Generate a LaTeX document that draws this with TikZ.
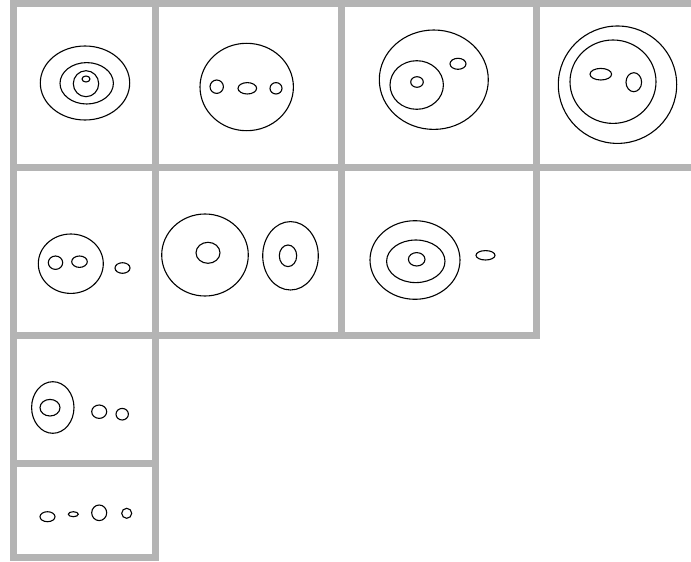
\documentclass[tikz,border=0pt]{standalone}
\usepackage{tikz}
\usepackage{xcolor}
\definecolor{framegray}{RGB}{180,180,180}

\begin{document}
\begin{tikzpicture}[
        x=1pt, y=-1pt,
        frame/.style={draw=framegray, line width=7pt, line cap=rect},
        blob/.style={draw=black, line width=1.1pt}
      ]
        \useasboundingbox (0,0) rectangle (691,562);
        \draw[frame] (13,3) -- (691,3);
        \draw[frame] (13,167) -- (691,167);
        \draw[frame] (13,335) -- (536,335);
        \draw[frame] (13,463) -- (155,463);
        \draw[frame] (13,557) -- (155,557);
        \draw[frame] (13,3) -- (13,557);
        \draw[frame] (155,3) -- (155,557);
        \draw[frame] (341,3) -- (341,335);
        \draw[frame] (536,3) -- (536,335);
        \draw[blob] (85,83) ellipse [x radius=44.7, y radius=37];
        \draw[blob] (86.7,83.3) ellipse [x radius=26.7, y radius=20.7];
        \draw[blob] (86,83.7) ellipse [x radius=12.7, y radius=13];
        \draw[blob] (86,79) ellipse [x radius=4, y radius=3];
        \draw[blob] (246.7,87) ellipse [x radius=46.7, y radius=43.7];
        \draw[blob] (216.7,86.7) ellipse [x radius=6.7, y radius=6.7];
        \draw[blob] (247.3,88.3) ellipse [x radius=9.3, y radius=5.7];
        \draw[blob] (276,88.3) ellipse [x radius=6, y radius=5.7];
        \draw[blob] (433.8,79.7) ellipse [x radius=54.5, y radius=49.7];
        \draw[blob] (416.7,85) ellipse [x radius=26.7, y radius=24.3];
        \draw[blob] (417,82) ellipse [x radius=6.3, y radius=5.3];
        \draw[blob] (458,63.8) ellipse [x radius=8, y radius=5.5];
        \draw[blob] (617.5,84.7) ellipse [x radius=59.2, y radius=58.7];
        \draw[blob] (613,81.7) ellipse [x radius=43, y radius=41.7];
        \draw[blob] (600.8,74.2) ellipse [x radius=10.8, y radius=5.8];
        \draw[blob] (633.8,82.2) ellipse [x radius=7.8, y radius=9.5];
        \draw[blob] (70.8,263.7) ellipse [x radius=32.5, y radius=29.7];
        \draw[blob] (55.5,262.7) ellipse [x radius=7.2, y radius=6.7];
        \draw[blob] (79.5,261.7) ellipse [x radius=7.8, y radius=5.7];
        \draw[blob] (122.5,268) ellipse [x radius=7.5, y radius=5.3];
        \draw[blob] (205,255) ellipse [x radius=43.3, y radius=41];
        \draw[blob] (208,252.8) ellipse [x radius=12, y radius=10.5];
        \draw[blob] (290.5,255.8) ellipse [x radius=27.8, y radius=34.2];
        \draw[blob] (288,255.8) ellipse [x radius=8.7, y radius=10.8];
        \draw[blob] (415,260) ellipse [x radius=45, y radius=39.3];
        \draw[blob] (415.8,261.3) ellipse [x radius=29.2, y radius=21.3];
        \draw[blob] (416.7,259.3) ellipse [x radius=8.3, y radius=6.7];
        \draw[blob] (485.5,255.3) ellipse [x radius=9.5, y radius=4.7];
        \draw[blob] (52.8,407.5) ellipse [x radius=21.2, y radius=25.8];
        \draw[blob] (50,407.7) ellipse [x radius=10, y radius=8.3];
        \draw[blob] (99.2,411.7) ellipse [x radius=7.5, y radius=6.7];
        \draw[blob] (122.2,414.2) ellipse [x radius=6.2, y radius=5.8];
        \draw[blob] (47.5,516.7) ellipse [x radius=7.5, y radius=5];
        \draw[blob] (73.3,514.2) ellipse [x radius=5, y radius=2.5];
        \draw[blob] (99.2,512.8) ellipse [x radius=7.5, y radius=7.8];
        \draw[blob] (126.7,513.3) ellipse [x radius=5, y radius=5];
      \end{tikzpicture}
\end{document}
